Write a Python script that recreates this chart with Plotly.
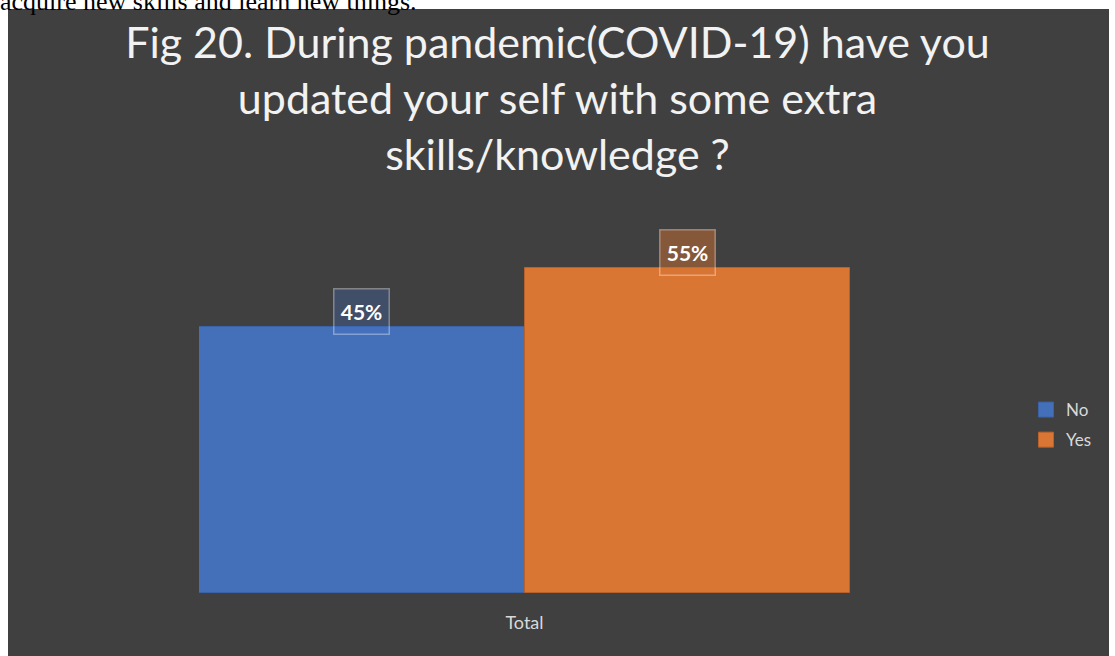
import plotly.graph_objects as go

# ---- data ----
categories = ["Total"]
series_names = ["No", "Yes"]
series_values = [45, 55]          # percent
series_colors = ["#4470BA", "#D97634"]
series_lines = ["#3A62A7", "#B8612A"]
label_fills = ["rgba(68,114,196,0.30)", "rgba(217,118,52,0.45)"]
title_text = ("Fig 20. During pandemic(COVID-19) have you<br>"
              "updated your self with some extra<br>skills/knowledge ?")
top_text = "acquire new skills and learn new things."

W, H = 1115, 656
L, R, T, B = 199, 265, 238, 63
pw, ph = W - L - R, H - T - B


def px_x(p):
    return (p - L) / pw


def px_y(p):
    return (H - B - p) / ph


fig = go.Figure()
for name, val, col, lc in zip(series_names, series_values, series_colors, series_lines):
    fig.add_trace(go.Bar(
        x=categories, y=[val], name=name, showlegend=False,
        marker=dict(color=col, line=dict(color=lc, width=1)),
        hoverinfo="skip",
    ))
# legend entries (square swatches)
for name, col, lc in zip(series_names, series_colors, series_lines):
    fig.add_trace(go.Scatter(
        x=[None], y=[None], mode="markers", name=name, legendgroup=name,
        marker=dict(symbol="square", size=15, color=col, line=dict(color=lc, width=1)),
    ))

annotations = []
n = len(series_values)
for i, (val, fill) in enumerate(zip(series_values, label_fills)):
    annotations.append(dict(
        x=-0.5 + (i + 0.5) / n, y=val, xref="x", yref="y",
        text=f"<b>{val}%</b>", showarrow=False,
        font=dict(family="Lato", size=21, color="#FFFFFF"),
        bgcolor=fill, bordercolor="rgba(255,255,255,0.35)", borderwidth=1.5,
        width=50, height=40, borderpad=2,
        yanchor="middle", yshift=15,
    ))

annotations.append(dict(
    x=px_x(-2), y=px_y(1), xref="paper", yref="paper", text=top_text, showarrow=False,
    font=dict(family="Liberation Serif", size=26, color="#000000"),
    xanchor="left", yanchor="middle",
))

fig.update_layout(
    width=W, height=H,
    margin=dict(l=L, r=R, t=T, b=B, pad=0),
    paper_bgcolor="#FFFFFF", plot_bgcolor="rgba(0,0,0,0)",
    barmode="group", bargap=0, bargroupgap=0,
    title=dict(text=title_text, x=0.5, xref="container", xanchor="center",
               y=1 - 58 / H, yref="container", yanchor="top",
               font=dict(family="Lato", size=43, color="#F2F2F2")),
    xaxis=dict(showgrid=False, showline=False, zeroline=False, ticks="",
               tickfont=dict(family="Lato", size=18, color="#D9D9D9"),
               ticklabelstandoff=17, range=[-0.5, 0.5], fixedrange=True),
    yaxis=dict(range=[0, 60], visible=False, fixedrange=True),
    legend=dict(x=1026 / W, xref="container", xanchor="left",
                y=1 - 425 / H, yref="container", yanchor="middle",
                font=dict(family="Lato", size=17, color="#D9D9D9"),
                bgcolor="rgba(0,0,0,0)", itemwidth=30,
                traceorder="grouped", tracegroupgap=5),
    shapes=[dict(type="rect", xref="paper", yref="paper", layer="below",
                 x0=px_x(8), x1=px_x(1109), y0=px_y(660), y1=px_y(9),
                 fillcolor="#404040", line=dict(width=0))],
    annotations=annotations,
    showlegend=True,
)

fig.write_html("out.html", config={"displayModeBar": False},
               post_script="document.body.style.margin='0';document.body.style.overflow='hidden';")
